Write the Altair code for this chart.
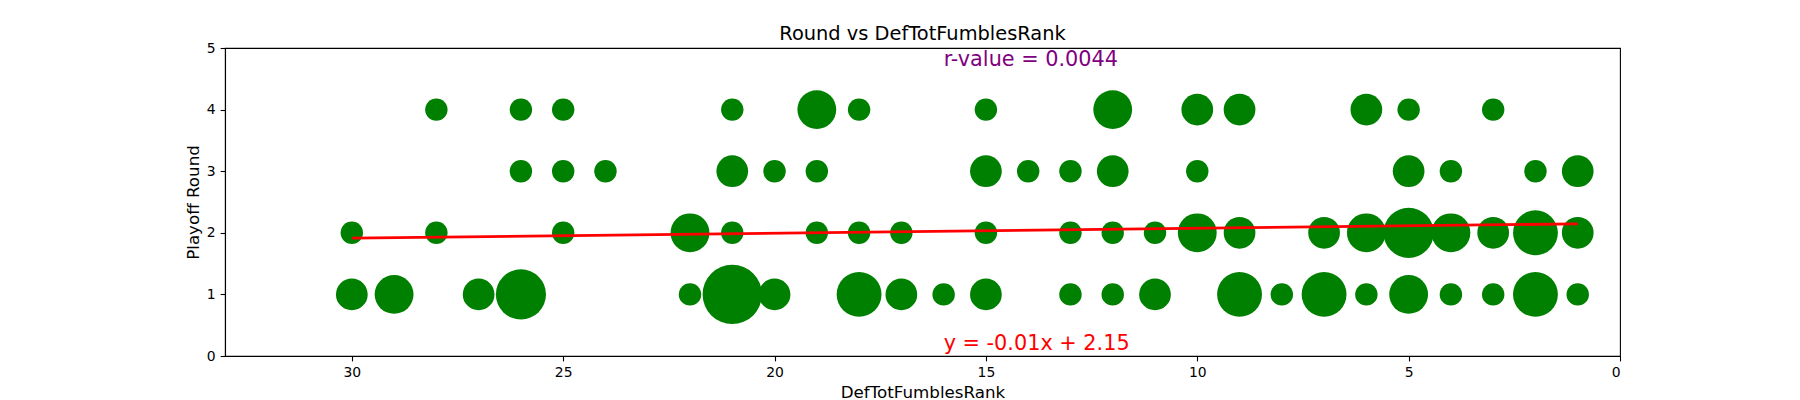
import altair as alt
import pandas as pd


# defensive fumble rank of each team-season, grouped by the playoff round reached
# (counts = how many teams share that rank & round -> bubble size)
round4_rank = [28, 26, 25, 21, 19, 18, 15, 12, 10, 9, 6, 5, 3]
round4_count = [1, 1, 1, 1, 3, 1, 1, 3, 2, 2, 2, 1, 1]

round3_rank = [26, 25, 24, 21, 20, 19, 15, 14, 13, 12, 10, 5, 4, 2, 1]
round3_count = [1, 1, 1, 2, 1, 1, 2, 1, 1, 2, 1, 2, 1, 1, 2]

round2_rank = [30, 28, 25, 22, 21, 19, 18, 17, 15, 13, 12, 11, 10, 9, 7, 6, 5, 4, 3, 2, 1]
round2_count = [1, 1, 1, 3, 1, 1, 1, 1, 1, 1, 1, 1, 3, 2, 2, 3, 5, 3, 2, 4, 2]

round1_rank = [30, 29, 27, 26, 22, 21, 20, 18, 17, 16, 15, 13, 12, 11, 9, 8, 7, 6, 5, 4, 3, 2, 1]
round1_count = [2, 3, 2, 5, 1, 7, 2, 4, 2, 1, 2, 1, 1, 2, 4, 1, 4, 1, 3, 1, 1, 4, 1]

# regression line
fit_x = [30, 1]
fit_slope = -0.008
fit_intercept = 2.153

# annotations
note_text = ['r-value = 0.0044', 'y = -0.01x + 2.15']
note_x = [16, 16]
note_y = [4.7, 0.1]
note_color = ['purple', 'red']

FONT = 'DejaVu Sans'

rows = []
for rnd, ranks, counts in [(1, round1_rank, round1_count), (2, round2_rank, round2_count),
                           (3, round3_rank, round3_count), (4, round4_rank, round4_count)]:
    for r, c in zip(ranks, counts):
        rows.append({'rank': r, 'round': rnd, 'count': c})
data = pd.DataFrame(rows)
data['area'] = data['count'] * 503

fit = pd.DataFrame({'rank': fit_x})
fit['pred'] = fit_slope * fit['rank'] + fit_intercept

notes = pd.DataFrame({'x': note_x, 'y': note_y, 'text': note_text, 'color': note_color})

x_scale = alt.Scale(domain=[0, 33], reverse=True, nice=False, zero=False)
y_scale = alt.Scale(domain=[0, 5], nice=False)

axis_common = dict(grid=False, labelFont=FONT, labelFontSize=13.9, labelColor='black',
                   tickSize=4.9, tickWidth=1.1, tickColor='black', labelPadding=4.9,
                   domainColor='black', domainWidth=1.1, titleFont=FONT, titleFontSize=16.7,
                   titleFontWeight='normal', titleColor='black', titleBaseline='alphabetic',
                   format='d')

bubbles = alt.Chart(data).mark_circle(color='#008000', opacity=1, strokeWidth=0).encode(
    x=alt.X('rank:Q', scale=x_scale, title='DefTotFumblesRank',
            axis=alt.Axis(values=[0, 5, 10, 15, 20, 25, 30], titleY=41, **axis_common)),
    y=alt.Y('round:Q', scale=y_scale, title='Playoff Round',
            axis=alt.Axis(values=[0, 1, 2, 3, 4, 5], titleX=-27, titleY=154, **axis_common)),
    size=alt.Size('area:Q', scale=None)
)

line = alt.Chart(fit).mark_line(color='red', strokeWidth=2.8).encode(
    x=alt.X('rank:Q', scale=x_scale),
    y=alt.Y('pred:Q', scale=y_scale)
)

text = alt.Chart(notes).mark_text(align='left', baseline='alphabetic', font=FONT, fontSize=20.8).encode(
    x=alt.X('x:Q', scale=x_scale),
    y=alt.Y('y:Q', scale=y_scale),
    text='text:N',
    color=alt.Color('color:N', scale=None)
)

chart = alt.layer(bubbles, line, text).properties(
    width=1395,
    height=308,
    autosize=alt.AutoSizeParams(type='none'),
    padding={'left': 217, 'top': 40, 'right': 150, 'bottom': 44},
    title=alt.TitleParams('Round vs DefTotFumblesRank', font=FONT, fontSize=19.4, fontWeight='normal',
                          color='black', anchor='middle', baseline='alphabetic', offset=8,
                          frame='group', dy=26)
).configure_view(
    stroke='black', strokeWidth=1.1
)

chart.save('out.html', embed_options={'renderer': 'svg', 'actions': False})
